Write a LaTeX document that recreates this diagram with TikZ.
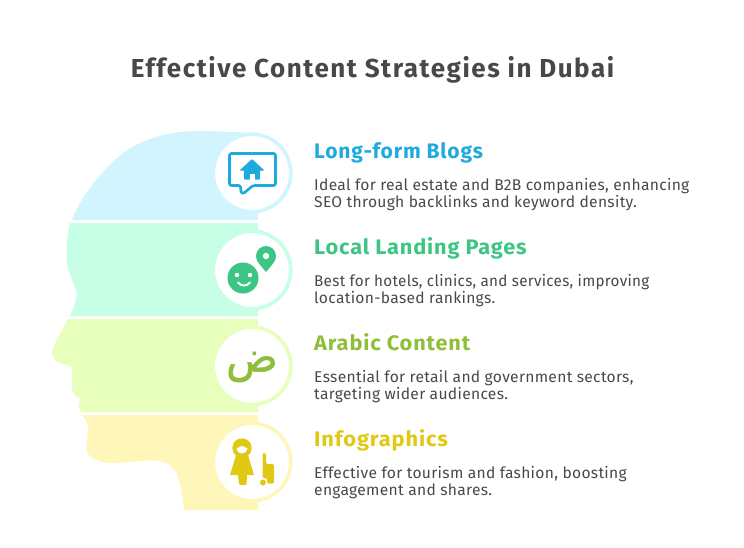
\documentclass[tikz,border=0pt]{standalone}
\usepackage{fontspec}
\usepackage{graphicx}
\setmainfont{Fira Sans}
\newfontfamily\arabicfont[Script=Arabic,FakeBold=1.2]{DejaVu Sans}
\TeXXeTstate=1
\definecolor{bandA}{HTML}{D2F4FF}
\definecolor{bandB}{HTML}{C6FFE6}
\definecolor{bandC}{HTML}{E6FFBB}
\definecolor{bandD}{HTML}{FFF6BA}
\definecolor{inkA}{HTML}{1EAADD}
\definecolor{inkB}{HTML}{3CC583}
\definecolor{inkC}{HTML}{8FBF3A}
\definecolor{inkD}{HTML}{E0C814}
\definecolor{inkT}{HTML}{484848}
\newfontfamily\headfont[LetterSpace=4]{Fira Sans}
\newfontfamily\titlefont[LetterSpace=6]{Fira Sans}
\newfontfamily\bodyfont[LetterSpace=2]{Fira Sans}
\tikzset{
  ring/.style={circle,fill=white,line width=3.6pt,minimum size=77.6pt,inner sep=0pt,outer sep=0pt},
  head/.style={anchor=base west,inner sep=0pt,font=\headfont\fontsize{21}{21}\selectfont\bfseries},
  body/.style={anchor=base west,inner sep=0pt,text=inkT,font=\bodyfont\fontsize{15.6}{15.6}\selectfont},
}
\begin{document}
\begin{tikzpicture}[x=1pt,y=-1pt]
\useasboundingbox (0,0) rectangle (744,547);
% head bands
\fill[bandA] (72,220) .. controls (80,198) and (100,172) .. (123,153)
  .. controls (150,134) and (180,130) .. (210,131) -- (258,133) -- (258,220) -- cycle;
\fill[bandB] (70,223) .. controls (67,235) and (66,250) .. (67,262)
  .. controls (68,273) and (74,283) .. (77,293) .. controls (76,302) and (73,310) .. (70,316)
  -- (258,316) -- (258,223) -- cycle;
\fill[bandC] (68,319) .. controls (62,331) and (54,342) .. (52,353)
  .. controls (52,361) and (62,364) .. (68,365) .. controls (72,366) and (72,368) .. (72,372)
  -- (72,388) .. controls (72,394) and (75,396) .. (81,399)
  .. controls (78,403) and (78,408) .. (81,412) -- (258,412) -- (258,319) -- cycle;
\fill[bandD] (82,415) .. controls (86,420) and (89,424) .. (88,430)
  .. controls (87,438) and (85,448) .. (88,454) .. controls (95,461) and (103,463) .. (113,463)
  .. controls (130,463) and (148,459) .. (160,461) .. controls (174,464) and (178,474) .. (180,484)
  .. controls (182,493) and (183,502) .. (184,510) -- (258,510) -- (258,415) -- cycle;
% rings
\node[ring,draw=bandA] (ringA) at (252,173) {};
\node[ring,draw=bandB] (ringB) at (252,270) {};
\node[ring,draw=bandC] (ringC) at (252,366) {};
\node[ring,draw=bandD] (ringD) at (252,462) {};
% chat icon
\draw[inkA,line width=2.6pt,line join=round,rounded corners=1.5pt]
  (229.5,153.5) -- (275.5,153.5) -- (275.5,185.5) -- (253,185.5) -- (243.5,193.5) -- (241,193) -- (240.5,185.5) -- (229.5,185.5) -- cycle;
\fill[inkA,rounded corners=0.8pt] (252,159) -- (264.5,170.5) -- (260,170.5) -- (260,179.5) -- (244,179.5) -- (244,170.5) -- (239.5,170.5) -- cycle;
\fill[white] (249.5,174) rectangle (254.5,180);
% smiley and pin
\fill[inkB] (243,278) circle[radius=15.5];
\fill[white] (237,275) circle[radius=2.2] (250,275) circle[radius=2.2];
\draw[white,line width=2pt,line cap=round] (238,282.5) .. controls (241,286.5) and (247,286.5) .. (250,282.5);
\fill[inkB] (266,256) circle[radius=10];
\fill[inkB] (266,272) .. controls (262,267) and (257.5,263) .. (256.5,258) -- (275.5,258) .. controls (274.5,263) and (270,267) .. (266,272) -- cycle;
\fill[white] (266,256) circle[radius=3.2];
% arabic letter
\node[inner sep=0pt,text=inkC,font=\arabicfont\fontsize{43}{43}\selectfont] (arabicLetter) at (252,367) {\beginR ض\endR};
% woman and suitcase
\fill[inkD] (242,448) circle[radius=9.7];
\fill[inkD] (236,455) -- (248,455) -- (254,475) -- (247,475) -- (246.5,484) .. controls (246.5,485.5) and (239,485.5) .. (239,484) -- (238,475) -- (230,475) -- cycle;
\fill[white] (236.5,448.5) .. controls (239,447.5) and (240.5,446) .. (242,446) .. controls (243.5,446) and (245,447.5) .. (247.5,448.5) .. controls (247.5,451.5) and (245,453.5) .. (242,453.5) .. controls (239,453.5) and (236.5,451.5) .. (236.5,448.5) -- cycle;
\fill[inkD,rounded corners=1.5pt] (262.5,453) -- (266,453) -- (266,464) -- (274,464) -- (274,483.5) -- (267,483.5) -- (267,478) -- (262.5,478) -- cycle;
\fill[inkD] (263,482.5) circle[radius=3];
% texts
\node[anchor=base,inner sep=0pt,text=inkT,font=\titlefont\fontsize{26}{26}\selectfont\bfseries] (title) at (372.5,77) {Effective Content Strategies in Dubai};
\node[head,text=inkA] (hA) at (314,158) {Long-form Blogs};
\node[body] (bA1) at (314,190) {Ideal for real estate and B2B companies, enhancing};
\node[body] (bA2) at (314,207) {SEO through backlinks and keyword density.};
\node[head,text=inkB] (hB) at (314,254) {\scalebox{1.035}[1]{Local Landing Pages}};
\node[body] (bB1) at (314,286) {\scalebox{.975}[1]{Best for hotels, clinics, and services, improving}};
\node[body] (bB2) at (314,303) {location-based rankings.};
\node[head,text=inkC] (hC) at (314,350) {\scalebox{1.035}[1]{Arabic Content}};
\node[body] (bC1) at (314,382) {Essential for retail and government sectors,};
\node[body] (bC2) at (314,399) {targeting wider audiences.};
\node[head,text=inkD] (hD) at (314,446) {\scalebox{1.04}[1]{Infographics}};
\node[body] (bD1) at (314,478) {Effective for tourism and fashion, boosting};
\node[body] (bD2) at (314,495) {engagement and shares.};
\end{tikzpicture}
\end{document}
